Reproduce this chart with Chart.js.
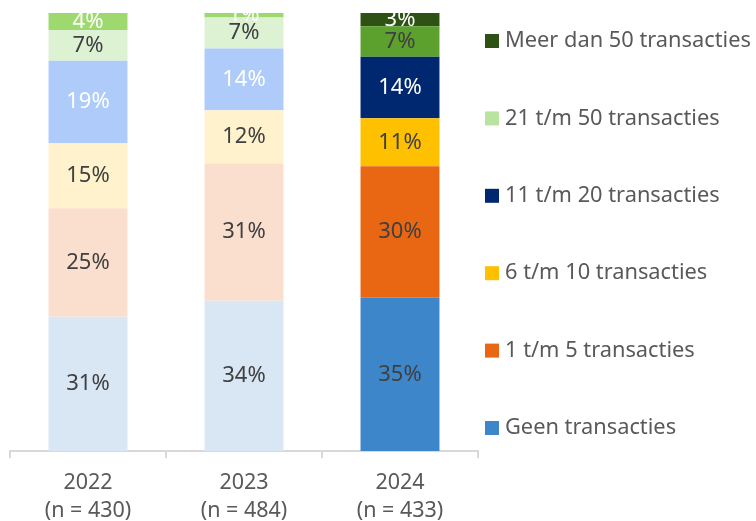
<!DOCTYPE html>
<html>
<head>
<meta charset="utf-8">
<script src="https://cdn.jsdelivr.net/npm/chart.js@4/dist/chart.umd.min.js"></script>
<style>
  html, body { margin: 0; padding: 0; background: #fff; }
  #wrap { width: 756px; height: 521px; position: relative; }
</style>
</head>
<body>
<div id="wrap"><canvas id="myChart"></canvas></div>
<script>
// data (percent labels as shown in the picture)
const years = [["2022", "(n = 430)"], ["2023", "(n = 484)"], ["2024", "(n = 433)"]];
const seriesNames = ["Geen transacties", "1 t/m 5 transacties", "6 t/m 10 transacties",
  "11 t/m 20 transacties", "21 t/m 50 transacties", "Meer dan 50 transacties"];
const geen = [31, 34, 35];
const een5 = [25, 31, 30];
const zes10 = [15, 12, 11];
const elf20 = [19, 14, 14];
const twintig50 = [7, 7, 7];
const meer50 = [4, 1, 3];

// colours: older years pastel, 2024 full colour
const lightColors = ["#D9E6F4", "#FADFCF", "#FFF2CC", "#AECBFA", "#DDF1D3", "#9ED96F"];
const darkColors = ["#3E86CA", "#E96712", "#FFC000", "#002870", "#5CA02D", "#2E5114"];
const legendColors = ["#3E86CA", "#E96712", "#FFC000", "#002870", "#B9E4A0", "#2E5114"];
const labelColors = ["#404040", "#404040", "#404040", "#ffffff", "#404040", "#ffffff"];

const FONT = '"Noto Sans", "DejaVu Sans", sans-serif';
const allValues = [geen, een5, zes10, elf20, twintig50, meer50];
const totals = years.map((y, j) => allValues.reduce((s, arr) => s + arr[j], 0));

const datasets = allValues.map((vals, i) => ({
  label: seriesNames[i],
  data: vals.map((v, j) => v / totals[j] * 100),
  shown: vals,
  backgroundColor: years.map((y, j) => (j === years.length - 1 ? darkColors[i] : lightColors[i])),
  categoryPercentage: 1,
  barPercentage: 0.506,
}));

// segment labels, clipped to the plot area
const segLabels = {
  id: "segLabels",
  afterDatasetsDraw(chart) {
    const { ctx, chartArea } = chart;
    ctx.save();
    ctx.beginPath();
    ctx.rect(chartArea.left, chartArea.top, chartArea.right - chartArea.left, chartArea.bottom - chartArea.top);
    ctx.clip();
    ctx.font = "22px " + FONT;
    ctx.textAlign = "center";
    ctx.textBaseline = "middle";
    chart.data.datasets.forEach((ds, i) => {
      chart.getDatasetMeta(i).data.forEach((bar, j) => {
        ctx.fillStyle = labelColors[i];
        ctx.fillText(ds.shown[j] + "%", bar.x, (bar.y + bar.base) / 2);
      });
    });
    ctx.restore();
  },
};

// legend on the right, top item = last series
const sideLegend = {
  id: "sideLegend",
  afterDraw(chart) {
    const { ctx, chartArea } = chart;
    const x = chartArea.right + 7;
    const step = 77.4;
    ctx.save();
    ctx.font = "21.8px " + FONT;
    ctx.textAlign = "left";
    ctx.textBaseline = "middle";
    for (let k = 0; k < seriesNames.length; k++) {
      const i = seriesNames.length - 1 - k;
      const top = chartArea.top + 21 + k * step;
      ctx.fillStyle = legendColors[i];
      ctx.fillRect(x, top, 14, 14);
      ctx.fillStyle = "#595959";
      ctx.fillText(seriesNames[i], x + 20, top + 7);
    }
    ctx.restore();
  },
};

const config = {
  type: "bar",
  data: { labels: years, datasets },
  options: {
    responsive: true,
    maintainAspectRatio: false,
    animation: false,
    layout: { padding: { left: 10, right: 278, top: 13, bottom: -15 } },
    scales: {
      x: {
        stacked: true,
        grid: { offset: true, drawOnChartArea: false, tickLength: 7, color: "#D9D9D9", lineWidth: 2 },
        border: { color: "#D9D9D9", width: 2 },
        ticks: { color: "#595959", font: { family: FONT, size: 21.5, lineHeight: 1.3 }, padding: 11 },
      },
      y: {
        stacked: true,
        display: false,
        min: 0,
        max: 100,
      },
    },
    plugins: {
      legend: { display: false },
      tooltip: { enabled: false },
    },
  },
  plugins: [segLabels, sideLegend],
};

const myChart = new Chart(document.getElementById("myChart"), config);
</script>
</body>
</html>
